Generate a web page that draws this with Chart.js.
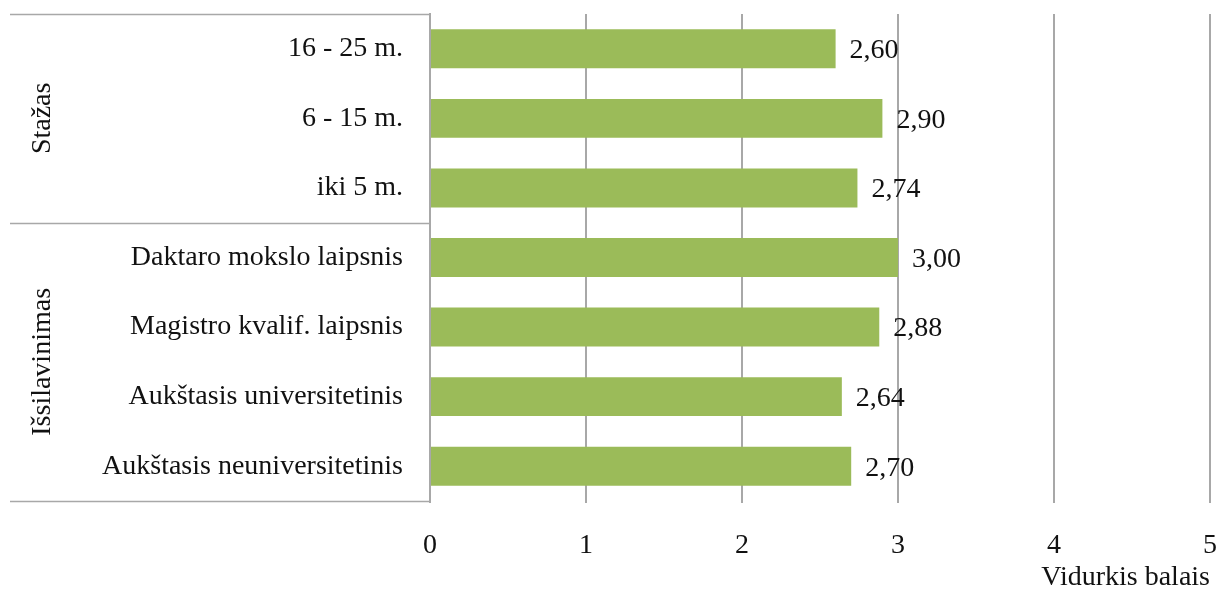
<!DOCTYPE html>
<html>
<head>
<meta charset="utf-8">
<script src="https://cdn.jsdelivr.net/npm/chart.js@4/dist/chart.umd.min.js"></script>
<style>
  html, body { margin: 0; padding: 0; background: #fff; }
  #wrap { width: 1219px; height: 592px; position: relative; }
</style>
</head>
<body>
<div id="wrap"><canvas id="c"></canvas></div>
<script>
// Categories from top to bottom
const categories = [
  '16 - 25 m.',
  '6 - 15 m.',
  'iki 5 m.',
  'Daktaro mokslo laipsnis',
  'Magistro kvalif. laipsnis',
  'Aukštasis universitetinis',
  'Aukštasis neuniversitetinis'
];
const values = [2.60, 2.90, 2.74, 3.00, 2.88, 2.64, 2.70];

// Group headings and how many categories each spans
const groupNames = ['Stažas', 'Išsilavinimas'];
const groupSizes = [3, 4];

const xTicks = [0, 1, 2, 3, 4, 5];
const xTitle = 'Vidurkis balais';

const FONT = '"Liberation Serif", "Times New Roman", serif';
const TEXT = '#111';
const LINE = '#a8a8a8';

const fmt = v => v.toFixed(2).replace('.', ',');

// Drop the extra edge padding Chart.js reserves for tick labels
const noEdgePadding = s => {
  s.paddingTop = 0; s.paddingBottom = 0; s.paddingLeft = 0; s.paddingRight = 0;
};

// Group box, rotated group headings and value labels
const extras = {
  id: 'extras',
  afterDatasetsDraw(chart) {
    const ctx = chart.ctx;
    const y = chart.scales.y;
    const area = chart.chartArea;
    const slot = (area.bottom - area.top) / categories.length;
    const boxLeft = 10;

    ctx.save();
    ctx.strokeStyle = LINE;
    ctx.lineWidth = 1.5;
    let idx = 0;
    const bounds = [area.top];
    groupSizes.forEach(n => { idx += n; bounds.push(y.getPixelForValue(idx - 1) + slot / 2); });
    bounds.forEach(b => {
      ctx.beginPath();
      ctx.moveTo(boxLeft, Math.round(b) + 0.5);
      ctx.lineTo(area.left, Math.round(b) + 0.5);
      ctx.stroke();
    });

    ctx.fillStyle = TEXT;
    ctx.font = '28px ' + FONT;
    ctx.textAlign = 'center';
    ctx.textBaseline = 'middle';
    groupNames.forEach((name, i) => {
      const cy = (bounds[i] + bounds[i + 1]) / 2;
      ctx.save();
      ctx.translate(43, cy);
      ctx.rotate(-Math.PI / 2);
      ctx.fillText(name, 0, 0);
      ctx.restore();
    });

    ctx.textAlign = 'left';
    const meta = chart.getDatasetMeta(0);
    meta.data.forEach((bar, i) => {
      ctx.fillText(fmt(values[i]), bar.x + 14, bar.y + 2);
    });
    ctx.restore();
  }
};

new Chart(document.getElementById('c'), {
  type: 'bar',
  data: {
    labels: categories,
    datasets: [{
      data: values,
      backgroundColor: '#9bbb59',
      borderWidth: 0,
      categoryPercentage: 1,
      barPercentage: 0.56
    }]
  },
  options: {
    indexAxis: 'y',
    responsive: true,
    maintainAspectRatio: false,
    animation: false,
    layout: { padding: { top: 14, right: 9, left: 0, bottom: 0 } },
    plugins: { legend: { display: false }, tooltip: { enabled: false } },
    scales: {
      x: {
        min: 0,
        max: 5,
        afterBuildTicks: s => { s.ticks = xTicks.map(v => ({ value: v })); },
        afterFit: s => { s.height = 91; noEdgePadding(s); },
        grid: { color: LINE, lineWidth: 2, drawTicks: true, tickLength: 2 },
        border: { display: false },
        ticks: { color: TEXT, font: { family: FONT, size: 28 }, padding: 26 },
        title: {
          display: true,
          text: xTitle,
          align: 'end',
          color: TEXT,
          font: { family: FONT, size: 28, lineHeight: 1 },
          padding: 0
        }
      },
      y: {
        afterFit: s => { s.width = 430; noEdgePadding(s); },
        grid: { display: false },
        border: { display: true, color: LINE, width: 2 },
        ticks: { color: TEXT, font: { family: FONT, size: 28 }, padding: 19 }
      }
    }
  },
  plugins: [extras]
});
</script>
</body>
</html>
